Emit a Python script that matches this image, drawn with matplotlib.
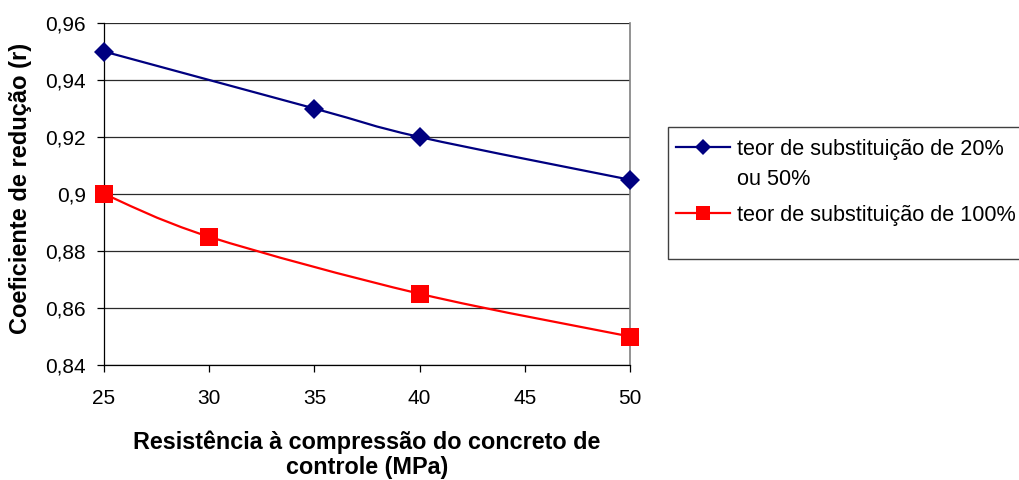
import matplotlib
matplotlib.use("Agg")
import matplotlib.pyplot as plt
from matplotlib.path import Path
from matplotlib.patches import PathPatch, Rectangle
from matplotlib.lines import Line2D
from matplotlib.ticker import FuncFormatter, MultipleLocator

plt.rcParams['font.family'] = ['Liberation Sans', 'DejaVu Sans']

# Control concrete strength (MPa)
strength_blue = [25, 35, 40, 50]
strength_red = [25, 30, 40, 50]
# Reduction coefficient r
r_20_50 = [0.95, 0.93, 0.92, 0.905]
r_100 = [0.90, 0.885, 0.865, 0.85]

label_blue = ["teor de substituição de 20%", "ou 50%"]
label_red = ["teor de substituição de 100%"]
xlabel = "Resistência à compressão do concreto de\ncontrole (MPa)"
ylabel = "Coeficiente de redução (r)"

BLUE = "#000080"
RED = "#FF0000"
W, H = 1020, 480


def smooth_path(xs, ys):
    """Cardinal Bezier curve through the points (spreadsheet-style smoothing)."""
    pts = list(zip(xs, ys))
    verts = [pts[0]]
    codes = [Path.MOVETO]
    n = len(pts)
    for i in range(n - 1):
        p0 = pts[i - 1] if i > 0 else pts[i]
        p1 = pts[i]
        p2 = pts[i + 1]
        p3 = pts[i + 2] if i + 2 < n else pts[i + 1]
        c1 = (p1[0] + (p2[0] - p0[0]) / 6, p1[1] + (p2[1] - p0[1]) / 6)
        c2 = (p2[0] - (p3[0] - p1[0]) / 6, p2[1] - (p3[1] - p1[1]) / 6)
        verts += [c1, c2, p2]
        codes += [Path.CURVE4] * 3
    return Path(verts, codes)


fig = plt.figure(figsize=(W / 100, H / 100), dpi=100)
ax = fig.add_axes([104 / W, 1 - 365 / H, 526 / W, 342 / H])

for xs, ys, col in [(strength_blue, r_20_50, BLUE), (strength_red, r_100, RED)]:
    ax.add_patch(PathPatch(smooth_path(xs, ys), facecolor="none",
                           edgecolor=col, lw=1.6, zorder=3))

ax.plot(strength_blue, r_20_50, linestyle="none", marker="D", ms=10,
        color=BLUE, mec=BLUE, mew=0, zorder=4, clip_on=False)
ax.plot(strength_red, r_100, linestyle="none", marker="s", ms=13.5,
        color=RED, mec=RED, mew=0, zorder=4, clip_on=False)

ax.set_xlim(25, 50)
ax.set_ylim(0.84, 0.96)
ax.xaxis.set_major_locator(MultipleLocator(5))
ax.yaxis.set_major_locator(MultipleLocator(0.02))
ax.yaxis.set_major_formatter(FuncFormatter(lambda v, p: f"{v:.2f}".rstrip("0").replace(".", ",")))

ax.grid(axis="y", color="#2a2a2a", lw=0.9, zorder=1)
ax.set_axisbelow(True)
for s in ["left", "bottom"]:
    ax.spines[s].set_color("#000000")
    ax.spines[s].set_linewidth(0.9)
ax.spines["top"].set_visible(False)
ax.spines["right"].set_color("#808080")
ax.spines["right"].set_linewidth(1.2)

ax.tick_params(axis="both", direction="out", length=5, width=0.9,
               labelsize=15, color="#000000")
ax.tick_params(axis="y", pad=8)
ax.tick_params(axis="x", pad=12)

ax.set_xlabel(xlabel, fontsize=16.8, fontweight="bold", linespacing=1.12)
ax.xaxis.set_label_coords(0.5, (365 - 480 + 1) / 342)
ax.xaxis.label.set_va("bottom")
ax.set_ylabel(ylabel, fontsize=17, fontweight="bold")
ax.yaxis.set_label_coords(-0.136, 0.515)

# Legend box with line/marker samples and wrapped labels
fig.patches.append(Rectangle((668 / W, 1 - 259 / H), 352 / W, 132 / H,
                             transform=fig.transFigure, facecolor="white",
                             edgecolor="#404040", lw=1.0, zorder=0))
legend_rows = [(147, BLUE, "D", 8, label_blue), (213, RED, "s", 9.5, label_red)]
for y, col, mk, ms, lines in legend_rows:
    fy = 1 - y / H
    fig.add_artist(Line2D([676 / W, 730 / W], [fy, fy], transform=fig.transFigure,
                          color=col, lw=1.6))
    fig.add_artist(Line2D([703 / W], [fy], transform=fig.transFigure, color=col,
                          marker=mk, ms=ms, mew=0, linestyle="none"))
    for k, line in enumerate(lines):
        fig.text(737 / W, 1 - (y + 30 * k) / H, line, fontsize=15.6,
                 ha="left", va="center_baseline")

fig.savefig("out.png", dpi=100)
